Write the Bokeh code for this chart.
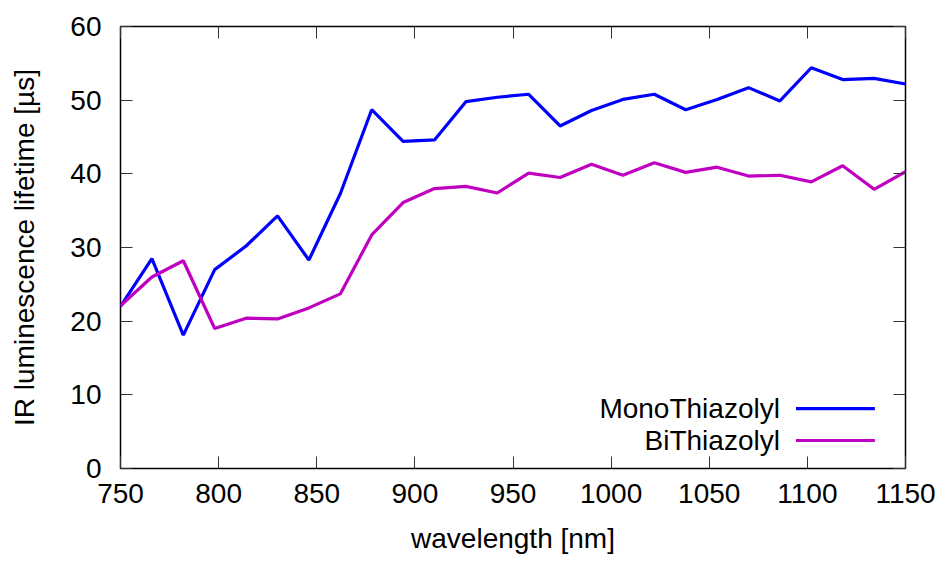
from bokeh.plotting import figure
from bokeh.models import Range1d, LinearAxis, FixedTicker, Label, CustomJSTickFormatter
from bokeh.embed import file_html
from bokeh.resources import INLINE

# ---- data ----
wavelength = [750, 766, 782, 798, 814, 830, 846, 862, 878, 894, 910, 926, 942,
              958, 974, 990, 1006, 1022, 1038, 1054, 1070, 1086, 1102, 1118, 1134, 1150]
mono = [22.0, 28.5, 18.1, 27.0, 30.2, 34.3, 28.3, 37.3, 48.7, 44.4, 44.6, 49.8, 50.4,
        50.8, 46.5, 48.6, 50.1, 50.8, 48.7, 50.1, 51.7, 49.9, 54.4, 52.8, 52.95, 52.2]
bi = [22.1, 26.0, 28.2, 19.0, 20.4, 20.3, 21.8, 23.7, 31.7, 36.1, 38.0, 38.3, 37.4,
      40.1, 39.5, 41.3, 39.8, 41.5, 40.2, 40.9, 39.7, 39.8, 38.9, 41.1, 37.9, 40.3]
series_names = ["MonoThiazolyl", "BiThiazolyl"]
x_ticks = [750, 800, 850, 900, 950, 1000, 1050, 1100, 1150]
y_ticks = [0, 10, 20, 30, 40, 50, 60]

# ---- styling ----
FONT = "Liberation Sans"
FS = "28px"
colors = ["#0000ff", "#c000c0"]

p = figure(width=938, height=556, output_backend="svg", toolbar_location=None,
           x_range=Range1d(750, 1150), y_range=Range1d(0, 60),
           min_border_left=120, min_border_right=33, min_border_top=26, min_border_bottom=88)
p.xgrid.visible = False
p.ygrid.visible = False
p.outline_line_color = "black"
p.outline_line_width = 1.5
p.background_fill_color = "white"
p.border_fill_color = "white"

def style_axis(ax, ticks):
    ax.ticker = FixedTicker(ticks=ticks)
    ax.major_tick_in = 12
    ax.major_tick_out = 0
    ax.minor_tick_in = 0
    ax.minor_tick_out = 0
    ax.major_tick_line_color = "#333333"
    ax.major_tick_line_width = 1
    ax.axis_line_color = None
    ax.major_label_text_font = FONT
    ax.major_label_text_font_size = FS
    ax.major_label_text_color = "black"
    ax.axis_label_text_font = FONT
    ax.axis_label_text_font_size = FS
    ax.axis_label_text_font_style = "normal"
    ax.axis_label_text_color = "black"

style_axis(p.xaxis[0], x_ticks)
style_axis(p.yaxis[0], y_ticks)
p.xaxis[0].axis_label = "wavelength [nm]"
p.yaxis[0].axis_label = "IR luminescence lifetime [µs]"
p.xaxis[0].major_label_standoff = 15
p.xaxis[0].axis_label_standoff = 17
p.yaxis[0].major_label_standoff = 19
p.yaxis[0].axis_label_standoff = 27

for loc, ticks in (("above", x_ticks), ("right", y_ticks)):
    ax = LinearAxis()
    style_axis(ax, ticks)
    ax.formatter = CustomJSTickFormatter(code="return ''")
    ax.major_label_standoff = 0
    ax.major_label_text_font_size = "1px"
    p.add_layout(ax, loc)

p.line(wavelength, mono, line_color=colors[0], line_width=3.2)
p.line(wavelength, bi, line_color=colors[1], line_width=3.2)

# ---- manual legend (gnuplot style: text then sample line) ----
leg_text_x = 1086
leg_x0, leg_x1 = 1094.2, 1134.4
leg_y = [8.13, 3.8]
for name, c, yy in zip(series_names, colors, leg_y):
    p.add_layout(Label(x=leg_text_x, y=yy, text=name, text_align="right",
                       text_baseline="middle", text_font=FONT, text_font_size=FS,
                       text_color="black"))
    p.segment(x0=[leg_x0], y0=[yy], x1=[leg_x1], y1=[yy], line_color=c, line_width=3.2)

open("out.html", "w").write(file_html(p, INLINE))
